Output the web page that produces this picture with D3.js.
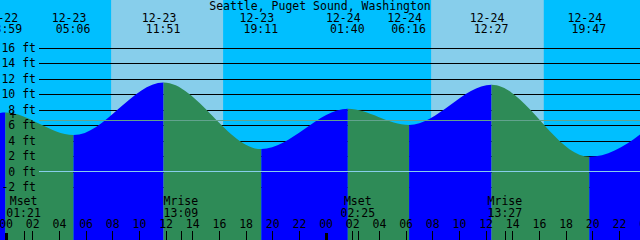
<!DOCTYPE html>
<html>
<head>
<meta charset="utf-8">
<script src="https://cdn.jsdelivr.net/npm/d3@7"></script>
<style>
  body { margin: 0; background: #fff; }
  svg { display: block; }
  text { font-family: "DejaVu Sans Mono", monospace; font-size: 11.5px; fill: #000; }
</style>
</head>
<body>
<svg id="chart"></svg>
<script>
const title = 'Seattle, Puget Sound, Washington';

// tide extremes (first and last lie just outside the window)
const tideTimes = ['2024-12-22T18:30', '2024-12-22T23:59', '2024-12-23T05:06', '2024-12-23T11:51',
  '2024-12-23T19:11', '2024-12-24T01:40', '2024-12-24T06:16', '2024-12-24T12:27',
  '2024-12-24T19:47', '2024-12-25T02:15'];
const tideHeights = [2.6, 7.6, 4.7, 11.5, 2.9, 8.1, 6.0, 11.2, 1.9, 8.8];

const sunrise = ['2024-12-23T07:55', '2024-12-24T07:55'];
const sunset = ['2024-12-23T16:19', '2024-12-24T16:22'];

const moonTimes = ['2024-12-23T01:21', '2024-12-23T13:09', '2024-12-24T02:25', '2024-12-24T13:27'];
const moonKinds = ['Mset', 'Mrise', 'Mset', 'Mrise'];

const levelTicks = [-2, 0, 2, 4, 6, 8, 10, 12, 14, 16];
const meanLevel = 6.6;
const windowStart = '2024-12-22T23:35';
const windowEnd = '2024-12-24T23:35';

const width = 640;
const height = 240;
const parse = d3.timeParse('%Y-%m-%dT%H:%M');

const svg = d3.select('#chart')
  .attr('width', width)
  .attr('height', height);

const x = d3.scaleTime()
  .domain([parse(windowStart), parse(windowEnd)])
  .range([0, width]);

const y = d3.scaleLinear()
  .domain([0, 16])
  .range([171.5, 47.5]);

const tides = tideTimes.map((t, i) => ({ t: parse(t), h: tideHeights[i] }));

// sky: night everywhere, day bands between sunrise and sunset
svg.append('rect')
  .attr('width', width)
  .attr('height', height)
  .attr('fill', '#00bfff');

svg.selectAll('rect.day')
  .data(sunrise.map((s, i) => [parse(s), parse(sunset[i])]))
  .enter()
  .append('rect')
  .attr('class', 'day')
  .attr('x', d => x(d[0]))
  .attr('width', d => x(d[1]) - x(d[0]))
  .attr('height', height)
  .attr('fill', '#87ceeb');

// level grid (sits under the water)
svg.append('g')
  .attr('transform', 'translate(39,0)')
  .call(d3.axisRight(y).tickValues(levelTicks).tickSize(width - 39).tickFormat(''))
  .call(g => g.select('.domain').remove())
  .selectAll('line')
  .attr('stroke', '#000')
  .attr('shape-rendering', 'crispEdges');

// water, coloured by rising / falling segment
const area = d3.area()
  .x(d => x(d.t))
  .y0(height)
  .y1(d => y(d.h))
  .curve(d3.curveMonotoneX);

const defs = svg.append('defs');
const segments = d3.pairs(tides);

segments.forEach((s, i) => {
  defs.append('clipPath')
    .attr('id', 'seg' + i)
    .append('rect')
    .attr('x', x(s[0].t))
    .attr('width', x(s[1].t) - x(s[0].t))
    .attr('height', height);

  svg.append('path')
    .datum(tides)
    .attr('clip-path', `url(#seg${i})`)
    .attr('d', area)
    .attr('fill', s[1].h < s[0].h ? '#2e8b57' : '#0000ff');
});

// mean level and datum lines
svg.append('line')
  .attr('x1', 39).attr('x2', width)
  .attr('y1', Math.round(y(meanLevel)) + 0.5).attr('y2', Math.round(y(meanLevel)) + 0.5)
  .attr('stroke', '#62a38e');

svg.append('line')
  .attr('x1', 39).attr('x2', width)
  .attr('y1', y(0)).attr('y2', y(0))
  .attr('stroke', '#87ceeb');

svg.append('text')
  .attr('x', 13)
  .attr('y', 119)
  .attr('text-anchor', 'middle')
  .text('+');

// level labels
svg.append('g')
  .attr('transform', 'translate(37,0)')
  .call(d3.axisLeft(y).tickValues(levelTicks).tickSize(0).tickPadding(1).tickFormat(d => d + ' ft'))
  .call(g => g.select('.domain').remove())
  .selectAll('text')
  .attr('font-family', null)
  .attr('font-size', null);

// title
svg.append('text')
  .attr('x', width / 2)
  .attr('y', 10)
  .attr('text-anchor', 'middle')
  .text(title);

// tide event labels
const shown = tides.filter(d => d.t >= x.domain()[0] && d.t <= x.domain()[1]);

svg.selectAll('text.date')
  .data(shown)
  .enter()
  .append('text')
  .attr('class', 'date')
  .attr('x', d => x(d.t) - 4.5)
  .attr('y', 22)
  .attr('text-anchor', 'middle')
  .text(d => d3.timeFormat('%m-%d')(d.t));

svg.selectAll('text.time')
  .data(shown)
  .enter()
  .append('text')
  .attr('class', 'time')
  .attr('x', d => x(d.t) - 0.5)
  .attr('y', 33)
  .attr('text-anchor', 'middle')
  .text(d => d3.timeFormat('%H:%M')(d.t));

// hour axis along the bottom (runs one tick past the right edge so the cut "00" shows)
const hourTicks = d3.timeHour.every(2).range(x.domain()[0], d3.timeHour.offset(x.domain()[1], 1));

const hourAxis = svg.append('g')
  .attr('transform', `translate(0,${height})`)
  .call(d3.axisTop(x).tickValues(hourTicks).tickSize(9).tickPadding(3).tickFormat(d3.timeFormat('%H')))
  .call(g => g.select('.domain').remove());

hourAxis.selectAll('text')
  .attr('font-family', null)
  .attr('font-size', null);

hourAxis.selectAll('.tick line')
  .attr('stroke', '#000')
  .attr('shape-rendering', 'crispEdges')
  .filter(d => d.getHours() === 0)
  .attr('stroke-width', 3)
  .attr('y2', -7);

// moon events
const moon = moonTimes.map((t, i) => ({ t: parse(t), kind: moonKinds[i] }));

svg.append('g')
  .attr('transform', `translate(0,${height})`)
  .call(d3.axisTop(x).tickValues(moon.map(d => d.t)).tickSize(9).tickFormat(''))
  .call(g => g.select('.domain').remove())
  .selectAll('line')
  .attr('stroke', '#000')
  .attr('shape-rendering', 'crispEdges');

svg.selectAll('text.moonkind')
  .data(moon)
  .enter()
  .append('text')
  .attr('x', d => x(d.t))
  .attr('y', 205)
  .attr('text-anchor', 'middle')
  .text(d => d.kind);

svg.selectAll('text.moontime')
  .data(moon)
  .enter()
  .append('text')
  .attr('x', d => x(d.t))
  .attr('y', 217)
  .attr('text-anchor', 'middle')
  .text(d => d3.timeFormat('%H:%M')(d.t));
</script>
</body>
</html>
